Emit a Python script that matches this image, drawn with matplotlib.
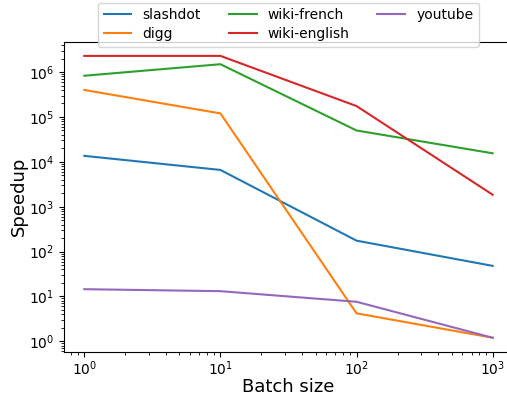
import numpy as np
import matplotlib
matplotlib.use('Agg')
from matplotlib import pyplot as plt
from matplotlib.ticker import LogLocator, NullFormatter

batch = [1, 10, 100, 1000]
slashdot = [1.36e4, 6.6e3, 175, 48]
digg = [4.0e5, 1.2e5, 4.2, 1.2]
wiki_french = [8.3e5, 1.5e6, 5.0e4, 1.55e4]
wiki_english = [2.3e6, 2.3e6, 1.75e5, 1.85e3]
youtube = [14.5, 13.1, 7.6, 1.2]

fig = plt.figure(figsize=(5.07, 3.98), dpi=100)
ax = fig.add_axes([0.126, 0.116, 0.886, 0.779])
ax.plot(batch, slashdot, label='slashdot')
ax.plot(batch, digg, label='digg')
ax.plot(batch, wiki_french, label='wiki-french')
ax.plot(batch, wiki_english, label='wiki-english')
ax.plot(batch, youtube, label='youtube')
ax.set_xscale('log')
ax.set_yscale('log')
ax.yaxis.set_minor_locator(LogLocator(base=10, subs=np.arange(2, 10), numticks=20))
ax.yaxis.set_minor_formatter(NullFormatter())
ax.xaxis.set_minor_formatter(NullFormatter())
ax.set_xlabel('Batch size', fontsize=13, labelpad=0)
ax.set_ylabel('Speedup', fontsize=13, labelpad=1)
ax.tick_params(axis='both', labelsize=10)
ax.tick_params(axis='x', which='major', pad=2)
ax.legend(loc='upper center', bbox_to_anchor=(0.5, 1.14), ncol=3, fontsize=10,
          labelspacing=0.35, borderaxespad=0.3)
fig.savefig('out.png', dpi=100)
